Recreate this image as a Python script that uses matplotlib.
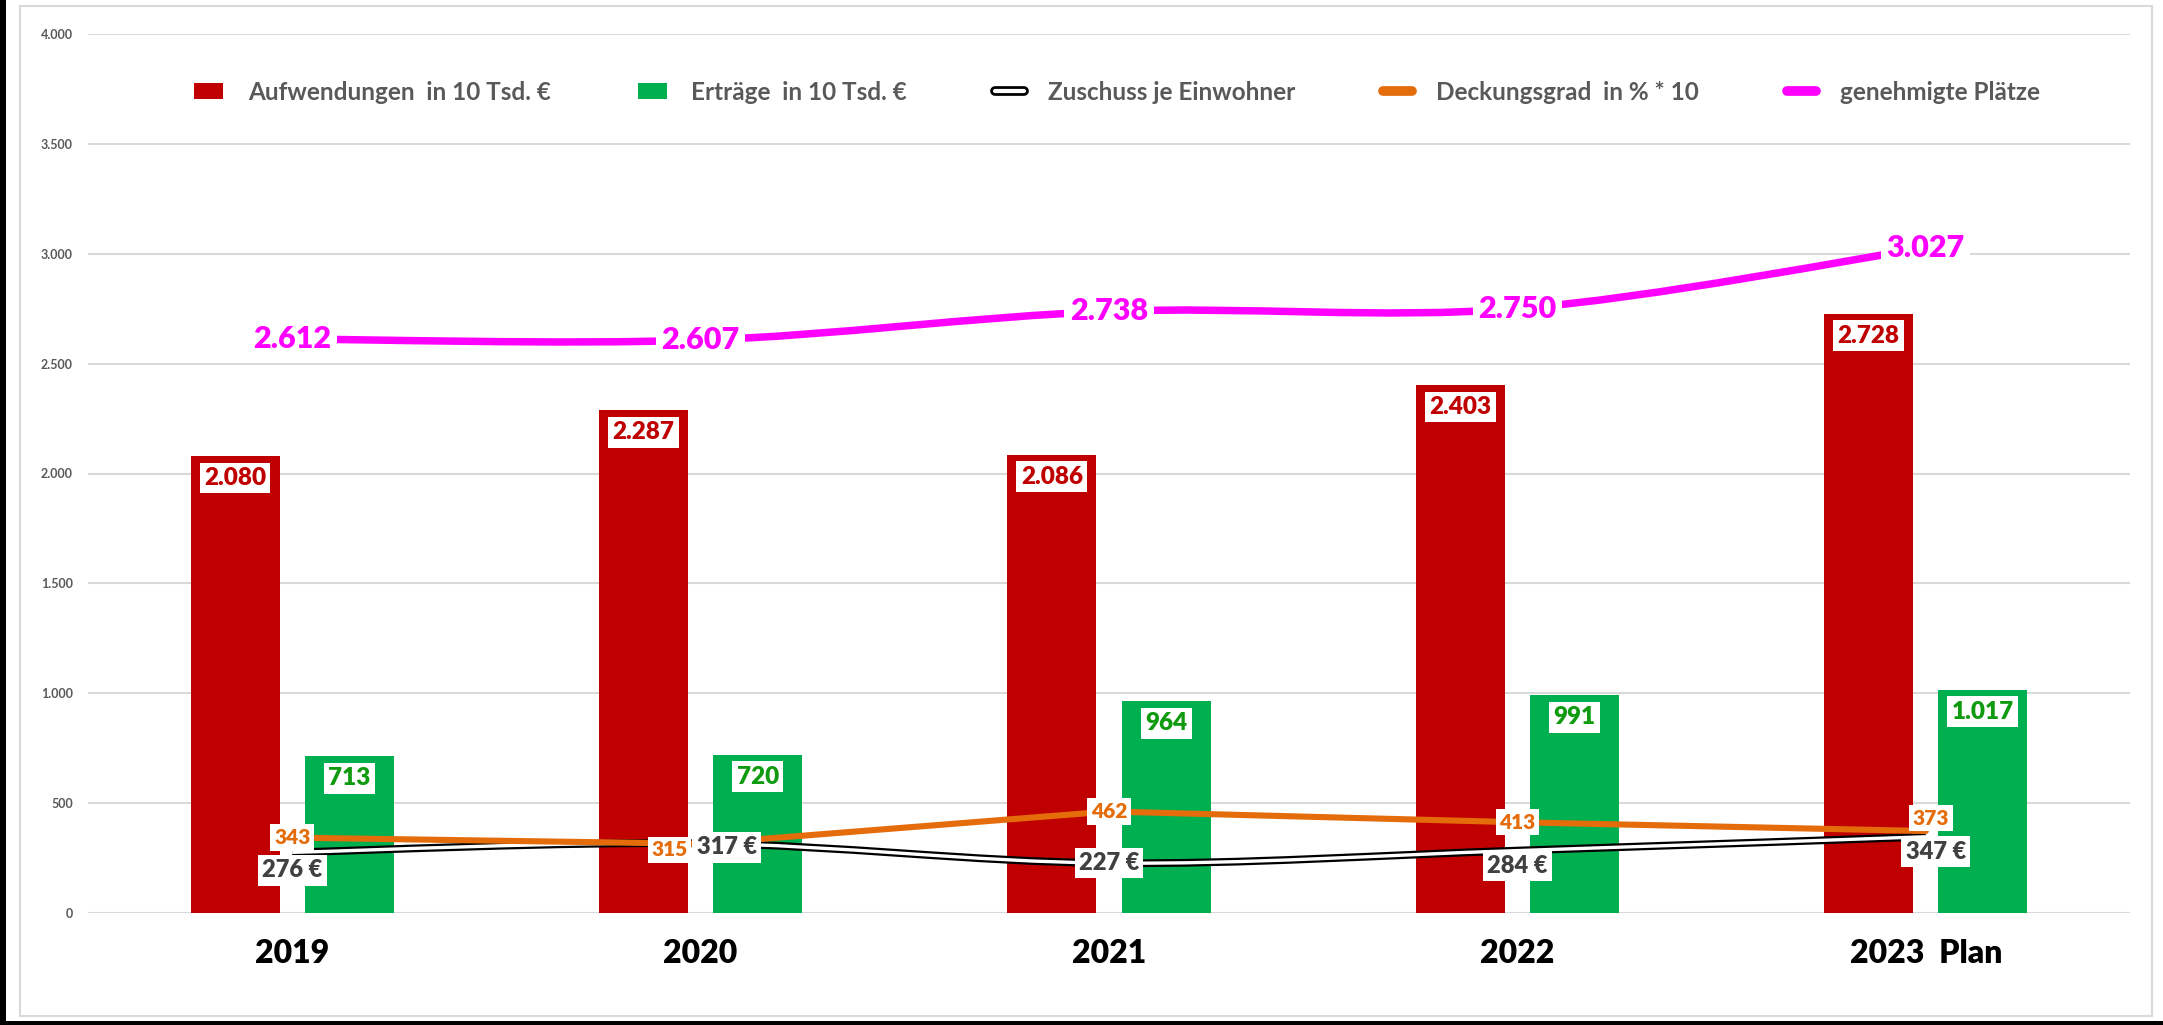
import matplotlib
matplotlib.use("Agg")
import matplotlib.pyplot as plt
from matplotlib.path import Path
from matplotlib.patches import PathPatch, Rectangle, Patch
from matplotlib.lines import Line2D
from matplotlib.legend_handler import HandlerTuple
import numpy as np

plt.rcParams['font.family'] = ['Lato', 'DejaVu Sans']

# ---- data ----
categories = ["2019", "2020", "2021", "2022", "2023  Plan"]
aufwendungen = [2080, 2287, 2086, 2403, 2728]
ertraege = [713, 720, 964, 991, 1017]
zuschuss = [276, 317, 227, 284, 347]
deckungsgrad = [343, 315, 462, 413, 373]
plaetze = [2612, 2607, 2738, 2750, 3027]
yticks = [0, 500, 1000, 1500, 2000, 2500, 3000, 3500, 4000]

# ---- style ----
RED = "#C00000"
GREEN = "#00B050"
GREEN_TXT = "#0F9A0F"
ORANGE = "#E46C0A"
MAGENTA = "#FF00FF"
GRAY = "#595959"
DARK = "#404040"
GRID = "#D9D9D9"
LBLW = 'heavy'

W, H, DPI = 2163, 1025, 100
fig = plt.figure(figsize=(W / DPI, H / DPI), dpi=DPI)
ax = fig.add_axes([88 / W, 1 - 913 / H, (2130 - 88) / W, (913 - 34) / H])

x = np.arange(len(categories))
bw = 0.218
off = 0.14

ax.bar(x - off, aufwendungen, width=bw, color=RED, zorder=2)
ax.bar(x + off, ertraege, width=bw, color=GREEN, zorder=2)


def smooth_path(xs, ys):
    xs = np.asarray(xs, float)
    ys = np.asarray(ys, float)
    n = len(xs)
    verts = [(xs[0], ys[0])]
    codes = [Path.MOVETO]
    for i in range(n - 1):
        i0 = max(i - 1, 0)
        i3 = min(i + 2, n - 1)
        c1 = (xs[i] + (xs[i + 1] - xs[i0]) / 6, ys[i] + (ys[i + 1] - ys[i0]) / 6)
        c2 = (xs[i + 1] - (xs[i3] - xs[i]) / 6, ys[i + 1] - (ys[i3] - ys[i]) / 6)
        verts += [c1, c2, (xs[i + 1], ys[i + 1])]
        codes += [Path.CURVE4] * 3
    return Path(verts, codes)


ax.add_patch(PathPatch(smooth_path(x, plaetze), fill=False, edgecolor=MAGENTA,
                       lw=5.4, capstyle='round', zorder=3))
zp = smooth_path(x, zuschuss)
ax.add_patch(PathPatch(zp, fill=False, edgecolor="black", lw=5.6, zorder=3))
ax.add_patch(PathPatch(zp, fill=False, edgecolor="white", lw=2.4, zorder=3.1))
ax.plot(x, deckungsgrad, color=ORANGE, lw=4.4, solid_capstyle='round', zorder=3.2)

# ---- axes styling ----
ax.set_xlim(-0.5, len(categories) - 0.5)
ax.set_ylim(0, 4000)
ax.set_yticks(yticks)
ax.set_yticklabels([f"{v:,}".replace(",", ".") for v in yticks],
                   fontsize=9, fontweight='bold', color=GRAY)
ax.set_xticks(x)
ax.set_xticklabels(categories, fontsize=23, fontweight=LBLW, color='black')
ax.tick_params(axis='both', length=0)
ax.tick_params(axis='y', pad=11)
ax.tick_params(axis='x', pad=19)
ax.grid(axis='y', color=GRID, lw=1.5, zorder=0)
for s in ax.spines.values():
    s.set_visible(False)
ax.set_axisbelow(True)


def box(fc="white"):
    return dict(boxstyle="square,pad=0.18", fc=fc, ec="none")


def fmt(v):
    return f"{v:,}".replace(",", ".")


# bar labels
for xi, v in zip(x, aufwendungen):
    ax.annotate(fmt(v), (xi - off, v), xytext=(0, -22), textcoords='offset pixels',
                ha='center', va='center', fontsize=17.5, fontweight=LBLW, color=RED,
                bbox=box(), zorder=5)
for xi, v in zip(x, ertraege):
    ax.annotate(fmt(v), (xi + off, v), xytext=(0, -22), textcoords='offset pixels',
                ha='center', va='center', fontsize=17.5, fontweight=LBLW, color=GREEN_TXT,
                bbox=box(), zorder=5)
# line labels
for xi, v in zip(x, plaetze):
    ax.annotate(fmt(v), (xi, v), xytext=(0, 0), textcoords='offset pixels',
                ha='center', va='center', fontsize=22, fontweight=LBLW, color=MAGENTA,
                bbox=box(), zorder=6)
orange_off = [(0, 0), (-31, -6), (0, 0), (0, 0), (5, 13)]
for xi, v, o in zip(x, deckungsgrad, orange_off):
    ax.annotate(fmt(v), (xi, v), xytext=o, textcoords='offset pixels',
                ha='center', va='center', fontsize=15, fontweight=LBLW, color=ORANGE,
                bbox=box(), zorder=6)
black_off = [(0, -18), (26, -4), (0, 0), (0, -15), (10, -15)]
for xi, v, o in zip(x, zuschuss, black_off):
    ax.annotate(f"{v} €", (xi, v), xytext=o, textcoords='offset pixels',
                ha='center', va='center', fontsize=17, fontweight=LBLW, color=DARK,
                bbox=box(), zorder=6)

# ---- legend ----
h_red = Patch(facecolor=RED, edgecolor='none')
h_green = Patch(facecolor=GREEN, edgecolor='none')
h_black = (Line2D([], [], color='black', lw=7, solid_capstyle='round'),
           Line2D([], [], color='white', lw=3, solid_capstyle='round'))
h_orange = Line2D([], [], color=ORANGE, lw=7, solid_capstyle='round')
h_mag = Line2D([], [], color=MAGENTA, lw=7, solid_capstyle='round')
leg = ax.legend([h_red, h_green, h_black, h_orange, h_mag],
                ["Aufwendungen  in 10 Tsd. €", "Erträge  in 10 Tsd. €", "Zuschuss je Einwohner",
                 "Deckungsgrad  in % * 10", "genehmigte Plätze"],
                handler_map={tuple: HandlerTuple(ndivide=1)},
                loc='center', bbox_to_anchor=(0.504, 0.934), ncol=5, frameon=False,
                prop={'size': 17.5, 'weight': 'bold'}, handlelength=1.2, handleheight=0.6,
                handletextpad=1.0, columnspacing=3.6)
for t in leg.get_texts():
    t.set_color(GRAY)

# ---- frames ----
fig.patches.append(Rectangle((20 / W, 1 - 1016 / H), 2132 / W, 1010 / H, transform=fig.transFigure,
                             fill=False, ec=GRID, lw=1.5))
fig.patches.append(Rectangle((0, 0), 6 / W, 1, transform=fig.transFigure, fc='black', ec='none'))
fig.patches.append(Rectangle((0, 0), 1, 4 / H, transform=fig.transFigure, fc='black', ec='none'))

fig.savefig("out.png", dpi=DPI, facecolor='white')
